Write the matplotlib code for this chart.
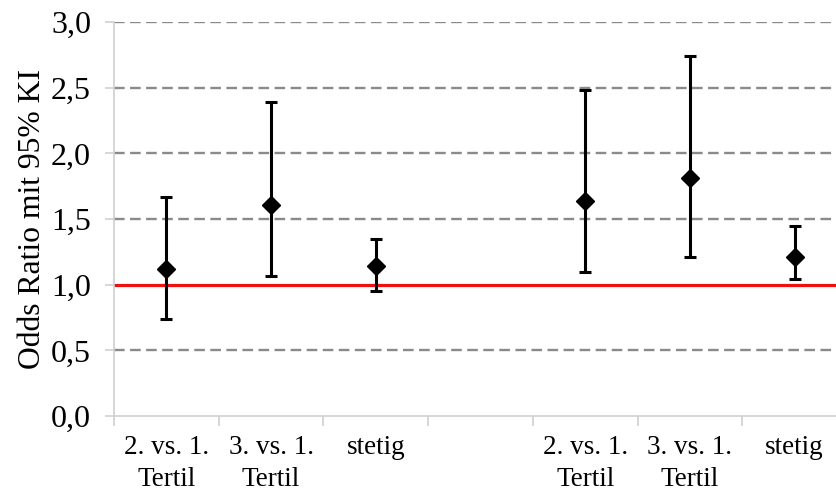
import matplotlib
matplotlib.use("Agg")
import matplotlib.pyplot as plt
from matplotlib.ticker import FixedLocator, FuncFormatter
import numpy as np

# categories (empty slot in the middle separates the two groups)
categories = ["2. vs. 1.\nTertil", "3. vs. 1.\nTertil", "stetig", "",
              "2. vs. 1.\nTertil", "3. vs. 1.\nTertil", "stetig"]
oddsRatio = [1.12, 1.61, 1.14, None, 1.64, 1.81, 1.21]
ciLower   = [0.74, 1.07, 0.95, None, 1.10, 1.21, 1.04]
ciUpper   = [1.67, 2.39, 1.35, None, 2.48, 2.74, 1.45]
yTicks = [0.0, 0.5, 1.0, 1.5, 2.0, 2.5, 3.0]

plt.rcParams['font.family'] = ['Liberation Serif', 'DejaVu Serif']

fig = plt.figure(figsize=(8.37, 4.91), dpi=100)
ax = fig.add_axes([0.1362, 0.1527, 0.8757, 0.8024])

n = len(categories)
idx = [i for i in range(n) if oddsRatio[i] is not None]
x = np.array(idx) + 0.5
y = np.array([oddsRatio[i] for i in idx])
lo = np.array([ciLower[i] for i in idx])
hi = np.array([ciUpper[i] for i in idx])

ax.set_xlim(0, n)
ax.set_ylim(0, 3.0)

# grid
for t in yTicks[1:]:
    if t != 1.0:
        ax.axhline(t, color='#8a8a8a', lw=1.7, dashes=(4.5, 2.3), zorder=1)
ax.axhline(1.0, color='#ee1111', lw=2.3, zorder=2)

ax.errorbar(x, y, yerr=[y - lo, hi - y], fmt='D', color='black',
            markersize=9, elinewidth=2.2, capsize=4, capthick=2.2, zorder=3)

# axes styling
for s in ['top', 'right']:
    ax.spines[s].set_visible(False)
for s in ['left', 'bottom']:
    ax.spines[s].set_color('#d0d0d0')
    ax.spines[s].set_linewidth(1.2)

ax.set_yticks(yTicks)
ax.yaxis.set_major_formatter(FuncFormatter(lambda v, p: f"{v:.1f}".replace('.', ',')))
ax.tick_params(axis='y', length=6.5, width=1.2, color='#d0d0d0', pad=10, labelsize=23)

ax.xaxis.set_major_locator(FixedLocator(range(n + 1)))
ax.xaxis.set_minor_locator(FixedLocator(np.arange(n) + 0.5))
ax.set_xticklabels([''] * (n + 1))
ax.set_xticklabels(categories, minor=True, va='top', linespacing=1.38)
ax.tick_params(axis='x', which='major', length=7, width=1.2, color='#d0d0d0')
ax.tick_params(axis='x', which='minor', length=0, pad=13.5, labelsize=19.5)

ax.set_ylabel('Odds Ratio mit 95% KI', fontsize=22.8, labelpad=3)

fig.savefig('out.png', dpi=100)
